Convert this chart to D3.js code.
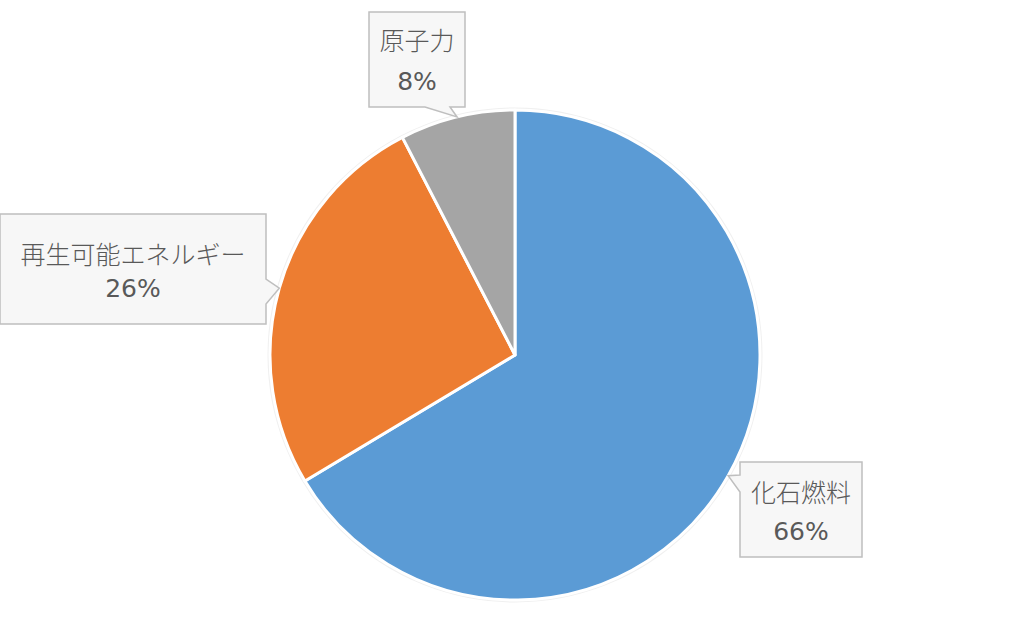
<!DOCTYPE html>
<html>
<head>
<meta charset="utf-8">
<style>
body {
   margin: 0;
   background: #fff;
   font-family: "Noto Sans CJK JP", sans-serif;
}
</style>
</head>
<body>
<div id="chart"></div>
<script src="https://d3js.org/d3.v7.min.js"></script>
<script>

// chart data
var categories = ["化石燃料", "再生可能エネルギー", "原子力"];
var shares = [66.4, 26.0, 7.6];
var colors = ["#5b9bd5", "#ed7d31", "#a5a5a5"];

var width = 1025, height = 618;
var cx = 515, cy = 355, radius = 245;

// callout boxes: x, y, w, h, which side the pointer leaves from, pointer base, text lines
var boxes = [
  {x: 740, y: 462, w: 122, h: 95, side: "left", b0: 475, b1: 492, l1: 491, l2: 531},
  {x: 0, y: 214, w: 266, h: 110, side: "right", b0: 279, b1: 304, l1: 253, l2: 288},
  {x: 369, y: 12, w: 96, h: 95, side: "bottom", b0: 425, b1: 450, l1: 39, l2: 81}
];

var svg = d3.select("#chart").append("svg")
    .attr("width", width)
    .attr("height", height);

var pie = d3.pie().sort(null).value(function(d) { return d; });
var arcs = pie(shares);

var arc = d3.arc().innerRadius(0).outerRadius(radius);

var g = svg.append("g")
    .attr("transform", "translate(" + cx + "," + cy + ")");

// faint outline round the pie
g.append("circle")
    .attr("r", radius + 1)
    .attr("fill", "none")
    .attr("stroke", "#f0f0f0")
    .attr("stroke-width", 3);

g.selectAll("path")
    .data(arcs)
  .enter().append("path")
    .attr("d", arc)
    .attr("fill", function(d, i) { return colors[i]; })
    .attr("stroke", "#fff")
    .attr("stroke-width", 3)
    .attr("stroke-linejoin", "round");

// callouts
function calloutPath(b, tip) {
  var x0 = b.x, y0 = b.y, x1 = b.x + b.w, y1 = b.y + b.h;
  var p;
  if (b.side == "left") {
    p = [[x0, y0], [x1, y0], [x1, y1], [x0, y1], [x0, b.b1], tip, [x0, b.b0]];
  } else if (b.side == "right") {
    p = [[x0, y0], [x1, y0], [x1, b.b0], tip, [x1, b.b1], [x1, y1], [x0, y1]];
  } else {
    p = [[x0, y0], [x1, y0], [x1, y1], [b.b1, y1], tip, [b.b0, y1], [x0, y1]];
  }
  return "M" + p.map(function(q) { return q.join(","); }).join("L") + "Z";
}

arcs.forEach(function(a, i) {
  var b = boxes[i];
  var mid = (a.startAngle + a.endAngle) / 2;
  var tip = [cx + radius * Math.sin(mid), cy - radius * Math.cos(mid)];

  svg.append("path")
      .attr("d", calloutPath(b, tip))
      .attr("fill", "#f7f7f7")
      .attr("stroke", "#bfbfbf")
      .attr("stroke-width", 1.5);

  var tx = b.x + b.w / 2;
  svg.append("text")
      .attr("x", tx)
      .attr("y", b.l1)
      .attr("text-anchor", "middle")
      .attr("dominant-baseline", "central")
      .attr("font-size", 25)
      .attr("font-weight", 300)
      .attr("fill", "#595959")
      .text(categories[i]);
  svg.append("text")
      .attr("x", tx)
      .attr("y", b.l2)
      .attr("text-anchor", "middle")
      .attr("dominant-baseline", "central")
      .attr("font-family", "'DejaVu Sans', sans-serif")
      .attr("font-size", 25)
      .attr("fill", "#595959")
      .text(Math.round(shares[i]) + "%");
});

</script>
</body>
</html>
